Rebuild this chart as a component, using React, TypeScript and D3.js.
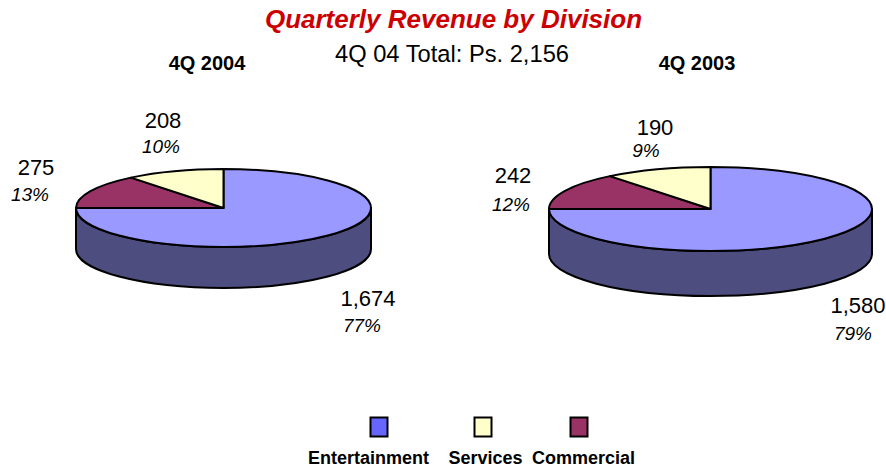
import React from "react";
import * as d3 from "d3";

const categories = ["Entertainment", "Services", "Commercial"];
const colors = ["#9999FF", "#FFFFCC", "#993366"];
const legendColors = ["#6666FF", "#FFFFCC", "#993366"];
const legendX = [379, 483, 579];
const legendTextX = [368.5, 485.5, 583.5];

// Clockwise from 12 o'clock: Entertainment, Commercial, Services
const sliceOrder = [0, 2, 1];
// Slice shares as drawn in the picture, in category order
const shares2004 = [75, 10.8, 14.2];
const shares2003 = [75, 10.7, 14.3];
const labels2004 = ["1,674", "208", "275"];
const labels2003 = ["1,580", "190", "242"];
const pcts2004 = ["77%", "10%", "13%"];
const pcts2003 = ["79%", "9%", "12%"];

const FONT = "'Liberation Sans', Arial, sans-serif";
const STROKE = 2;

type PieProps = {
  shares: number[]; cx: number; cy: number; rx: number; ry: number; depth: number;
  labels: string[]; pcts: string[];
  labelPos: [number, number][]; pctPos: [number, number][];
};

function Pie({ shares, cx, cy, rx, ry, depth, labels, pcts, labelPos, pctPos }: PieProps) {
  const arcs = d3.pie<number>().sort(null).value((i) => shares[i])(sliceOrder);
  const arc = d3.arc<d3.PieArcDatum<number>>().innerRadius(0).outerRadius(rx);
  const side = `M${-rx},0 A${rx},${ry} 0 0 0 ${rx},0 L${rx},${depth} A${rx},${ry} 0 0 1 ${-rx},${depth} Z`;
  return (
    <g>
      <g transform={`translate(${cx},${cy})`}>
        <path d={side} fill="#4D4D80" stroke="#000" strokeWidth={STROKE} strokeLinejoin="round" />
        <g transform={`scale(1,${ry / rx})`}>
          {arcs.map((a) => (
            <path key={a.data} d={arc(a) || ""} fill={colors[a.data]} stroke="#000" strokeWidth={STROKE}
              strokeLinejoin="round" vectorEffect="non-scaling-stroke" />
          ))}
        </g>
      </g>
      {labels.map((t, i) => (
        <text key={t} x={labelPos[i][0]} y={labelPos[i][1]} textAnchor="middle" fontSize={22} fill="#000">{t}</text>
      ))}
      {pcts.map((t, i) => (
        <text key={t} x={pctPos[i][0]} y={pctPos[i][1]} textAnchor="middle" fontSize={19} fontStyle="italic" fill="#000">{t}</text>
      ))}
    </g>
  );
}

export default function App() {
  return (
    <svg width={886} height={466} viewBox="0 0 886 466" fontFamily={FONT}
      style={{ position: "absolute", left: 0, top: 0, background: "#fff" }}>
      <text x={453.5} y={28} textAnchor="middle" fontSize={26} fontWeight="bold" fontStyle="italic" fill="#CC0000">Quarterly Revenue by Division</text>
      <text x={452} y={62} textAnchor="middle" fontSize={23.7} fill="#000">4Q 04 Total: Ps. 2,156</text>
      <text x={207} y={70} textAnchor="middle" fontSize={20} fontWeight="bold" fill="#000">4Q 2004</text>
      <text x={697} y={70} textAnchor="middle" fontSize={20} fontWeight="bold" fill="#000">4Q 2003</text>
      <Pie shares={shares2004} cx={223.5} cy={208} rx={147.5} ry={39} depth={41}
        labels={labels2004} pcts={pcts2004}
        labelPos={[[368, 306], [163, 128], [36, 175]]}
        pctPos={[[362, 332], [161, 153], [30, 201]]} />
      <Pie shares={shares2003} cx={710.5} cy={209} rx={161.5} ry={42} depth={45}
        labels={labels2003} pcts={pcts2003}
        labelPos={[[858, 313], [655, 135], [513, 183]]}
        pctPos={[[853, 340], [646, 157], [511, 211]]} />
      {categories.map((c, i) => (
        <g key={c}>
          <rect x={legendX[i] - 8.5} y={417.5} width={17} height={19} fill={legendColors[i]} stroke="#000" strokeWidth={STROKE} />
          <text x={legendTextX[i]} y={464} textAnchor="middle" fontSize={18} fontWeight="bold" fill="#000">{c}</text>
        </g>
      ))}
    </svg>
  );
}
